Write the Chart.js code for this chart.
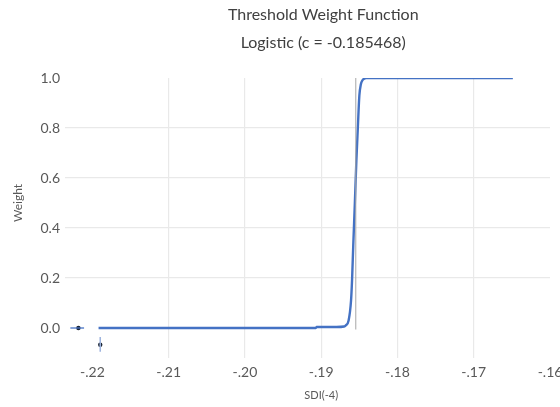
<!DOCTYPE html>
<html>
<head>
<meta charset="utf-8">
<script src="https://cdn.jsdelivr.net/npm/chart.js@4/dist/chart.umd.min.js"></script>
<style>
  html, body { margin: 0; padding: 0; background: #ffffff; }
  #wrap { width: 560px; height: 407px; position: relative; }
</style>
</head>
<body>
<div id="wrap"><canvas id="c" width="560" height="407"></canvas></div>
<script>
// ---- data ----
const titleLines = ["Threshold Weight Function", "Logistic (c = -0.185468)"];
const xAxisTitle = "SDI(-4)";
const yAxisTitle = "Weight";
const thresholdC = -0.185468;

const sdiValues = [-0.2192, -0.2100, -0.2000, -0.1907, -0.1906, -0.1880, -0.1870, -0.1868,
  -0.18641, -0.18609, -0.18596, -0.18580, -0.18559, -0.18539, -0.18520, -0.18500,
  -0.18480, -0.18461, -0.18430, -0.18408, -0.17500, -0.16487];
const weightValues = [0, 0, 0, 0, 0.004, 0.004, 0.006, 0.01,
  0.03, 0.11, 0.19, 0.33, 0.5, 0.67, 0.8, 0.93,
  0.975, 0.99, 0.998, 1, 1, 1];

const thresholdLineY = [-0.006, 1.0];

const hMarkerX = [-0.2229, -0.2211];
const hMarkerY = [0, 0];
const hMarkerDot = { x: -0.22184, y: 0 };
const vMarkerX = [-0.21898, -0.21898];
const vMarkerY = [-0.036, -0.095];
const vMarkerDot = { x: -0.21898, y: -0.067 };

const xTickValues = [-0.22, -0.21, -0.20, -0.19, -0.18, -0.17, -0.16];
const yTickValues = [0, 0.2, 0.4, 0.6, 0.8, 1.0];
const xRange = [-0.2236, -0.16];
const yRange = [-0.12, 1.0];

// ---- build chart ----
const FONT = "Lato, 'Open Sans', sans-serif";
const toPts = (xs, ys) => xs.map((x, i) => ({ x: x, y: ys[i] }));

const titlePlugin = {
  id: 'customTitles',
  afterDraw(chart) {
    const ctx = chart.ctx;
    const xs = chart.scales.x, ys = chart.scales.y;
    const cx = xs.getPixelForValue((xTickValues[0] + xTickValues[xTickValues.length - 1]) / 2);
    ctx.save();
    ctx.fillStyle = '#404040';
    ctx.textAlign = 'center';
    ctx.textBaseline = 'middle';
    ctx.font = "16px " + FONT;
    ctx.fillText(titleLines[0], cx + 2, 15);
    ctx.fillText(titleLines[1], cx + 2, 43);
    ctx.fillStyle = '#595959';
    ctx.font = "11px " + FONT;
    ctx.fillText(xAxisTitle, cx, 395);
    ctx.translate(18, ys.getPixelForValue(0.5));
    ctx.rotate(-Math.PI / 2);
    ctx.font = "12px " + FONT;
    ctx.fillText(yAxisTitle, 0, 0);
    ctx.restore();
  }
};

new Chart(document.getElementById('c'), {
  type: 'scatter',
  data: {
    datasets: [
      {
        label: 'threshold',
        data: toPts([thresholdC, thresholdC], thresholdLineY),
        showLine: true, borderColor: '#a6a6a6', borderWidth: 1, pointRadius: 0
      },
      {
        label: 'weight',
        data: toPts(sdiValues, weightValues),
        showLine: true, borderColor: '#4472C4', borderWidth: 2.4,
        pointRadius: 0, cubicInterpolationMode: 'monotone'
      },
      {
        label: 'hbar',
        data: toPts(hMarkerX, hMarkerY),
        showLine: true, borderColor: '#4472C4', borderWidth: 1.3, pointRadius: 0
      },
      {
        label: 'vbar',
        data: toPts(vMarkerX, vMarkerY),
        showLine: true, borderColor: '#9db3de', borderWidth: 1.5, pointRadius: 0
      },
      {
        label: 'dots',
        data: [hMarkerDot, vMarkerDot],
        showLine: false, pointRadius: 2.2, pointBackgroundColor: '#1a2433',
        pointBorderColor: '#1a2433', pointBorderWidth: 0
      }
    ]
  },
  options: {
    responsive: false,
    animation: false,
    devicePixelRatio: 1,
    layout: { padding: { top: 78, right: 10, left: 0, bottom: 0 } },
    plugins: {
      legend: { display: false },
      title: { display: false },
      tooltip: { enabled: false }
    },
    scales: {
      x: {
        type: 'linear', min: xRange[0], max: xRange[1],
        afterBuildTicks: (s) => { s.ticks = xTickValues.map(v => ({ value: v })); },
        afterFit: (s) => { s.height = 49; s.paddingLeft = 0; s.paddingRight = 0; },
        grid: {
          drawTicks: false,
          color: (c) => (c.tick && (c.tick.value <= -0.2199 || c.tick.value >= -0.1601)) ? 'rgba(0,0,0,0)' : '#e9e9e9',
          lineWidth: 1.2
        },
        border: { display: false },
        ticks: {
          padding: 6, color: '#595959', font: { family: FONT, size: 14 },
          maxRotation: 0, autoSkip: false,
          callback: (v) => { const s = Number(v).toFixed(2); return s.replace('0.', '.'); }
        }
      },
      y: {
        type: 'linear', min: yRange[0], max: yRange[1],
        afterBuildTicks: (s) => { s.ticks = yTickValues.map(v => ({ value: v })); },
        afterFit: (s) => { s.width = 65; s.paddingTop = 0; s.paddingBottom = 0; },
        grid: {
          drawTicks: false,
          color: (c) => (c.tick && (c.tick.value < 0.1 || c.tick.value > 0.9)) ? 'rgba(0,0,0,0)' : '#e9e9e9',
          lineWidth: 1.2
        },
        border: { display: false },
        ticks: {
          padding: 5, color: '#595959', font: { family: FONT, size: 14 },
          callback: (v) => Number(v).toFixed(1)
        }
      }
    }
  },
  plugins: [titlePlugin]
});
</script>
</body>
</html>
